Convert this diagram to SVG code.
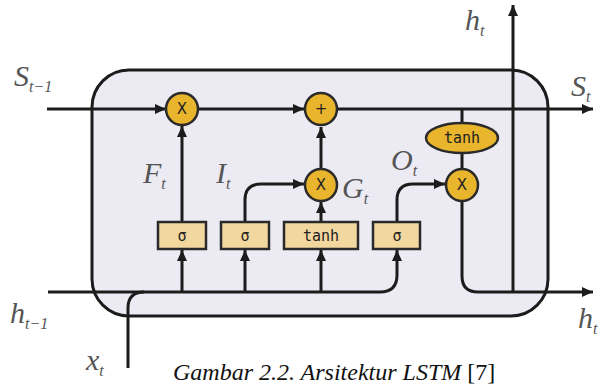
<svg xmlns="http://www.w3.org/2000/svg" width="600" height="385" viewBox="0 0 600 385">
<defs>
<marker id="ah" markerUnits="userSpaceOnUse" markerWidth="12" markerHeight="10" refX="11" refY="5" orient="auto">
<path d="M0,0 L11,5 L0,10 z" fill="#1c1c1c"/>
</marker>
<style>
.ln{fill:none;stroke:#1c1c1c;stroke-width:3}
.ar{fill:none;stroke:#1c1c1c;stroke-width:3;marker-end:url(#ah)}
.op{fill:#E8B52C;stroke:#2a2a2a;stroke-width:2.5}
.gt{fill:#F2D79E;stroke:#2a2a2a;stroke-width:2.5}
.ot{font-family:"DejaVu Sans",sans-serif;font-size:15px;fill:#222;text-anchor:middle}
.gx{font-family:"DejaVu Sans Mono",monospace;font-size:15px;fill:#222;text-anchor:middle}
.lb{font-family:"Liberation Serif",serif;font-style:italic;font-size:30px;fill:#555}
.sb{font-size:16px}
.cap{font-family:"Liberation Serif",serif;font-size:24px;fill:#111}
</style>
</defs>
<rect width="600" height="385" fill="#fff"/>
<g id="cell">
<rect x="92" y="70" width="456" height="246" rx="37" ry="37" fill="#ECEBF4" stroke="#1c1c1c" stroke-width="3"/>
</g>
<g id="connectors">
<path class="ar" d="M47,109 H166"/>
<path class="ar" d="M198,109 H304"/>
<path class="ar" d="M338,109 H593"/>
<path class="ar" d="M182,222 V126"/>
<path class="ln" d="M48,292 H380 Q397,292 397,275 V262"/>
<path class="ar" d="M397,262 V250"/>
<path class="ar" d="M182,292 V250"/>
<path class="ar" d="M245,292 V250"/>
<path class="ar" d="M321,292 V250"/>
<path class="ar" d="M245,222 V200 Q245,184 261,184 H304"/>
<path class="ar" d="M321,222 V202"/>
<path class="ar" d="M321,168 V127"/>
<path class="ar" d="M397,222 V200 Q397,184 413,184 H445"/>
<path class="ln" d="M462,109 V124"/>
<path class="ln" d="M462,152 V168"/>
<path class="ar" d="M462,201 V276 Q462,292 478,292 H593"/>
<path class="ar" d="M513,292 V5"/>
<path class="ln" d="M128,368 V308 Q128,292 144,292"/>
</g>
<g id="mul-f"><circle class="op" cx="182" cy="109" r="16"/><text class="ot" x="182" y="114">X</text></g>
<g id="add"><circle class="op" cx="321" cy="109" r="16"/><text class="ot" x="321" y="114">+</text></g>
<g id="mul-g"><circle class="op" cx="321" cy="185" r="16"/><text class="ot" x="321" y="190">X</text></g>
<g id="tanh-out"><ellipse class="op" cx="462" cy="138" rx="36" ry="15"/><text class="gx" x="462" y="143">tanh</text></g>
<g id="mul-o"><circle class="op" cx="462" cy="185" r="16"/><text class="ot" x="462" y="190">X</text></g>
<g id="sig-f"><rect class="gt" x="158" y="222" width="48" height="27"/><text class="gx" x="182" y="241">σ</text></g>
<g id="sig-i"><rect class="gt" x="221" y="222" width="48" height="27"/><text class="gx" x="245" y="241">σ</text></g>
<g id="tanh-g"><rect class="gt" x="284" y="222" width="74" height="27"/><text class="gx" x="321" y="241">tanh</text></g>
<g id="sig-o"><rect class="gt" x="373" y="222" width="47" height="27"/><text class="gx" x="397" y="241">σ</text></g>
<g id="labels">
<text class="lb" x="14" y="86">S<tspan class="sb" dy="6">t−1</tspan></text>
<text class="lb" x="10" y="323">h<tspan class="sb" dy="6">t−1</tspan></text>
<text class="lb" x="86" y="370">x<tspan class="sb" dy="6">t</tspan></text>
<text class="lb" x="465" y="30">h<tspan class="sb" dy="6">t</tspan></text>
<text class="lb" x="571" y="96">S<tspan class="sb" dy="6">t</tspan></text>
<text class="lb" x="578" y="328">h<tspan class="sb" dy="6">t</tspan></text>
<text class="lb" x="143" y="183">F<tspan class="sb" dy="6">t</tspan></text>
<text class="lb" x="216" y="183">I<tspan class="sb" dy="6">t</tspan></text>
<text class="lb" x="342" y="198">G<tspan class="sb" dy="6">t</tspan></text>
<text class="lb" x="391" y="170">O<tspan class="sb" dy="6">t</tspan></text>
</g>
<text class="cap" x="173" y="380"><tspan font-style="italic">Gambar 2.2. Arsitektur LSTM</tspan> [7]</text>
</svg>
